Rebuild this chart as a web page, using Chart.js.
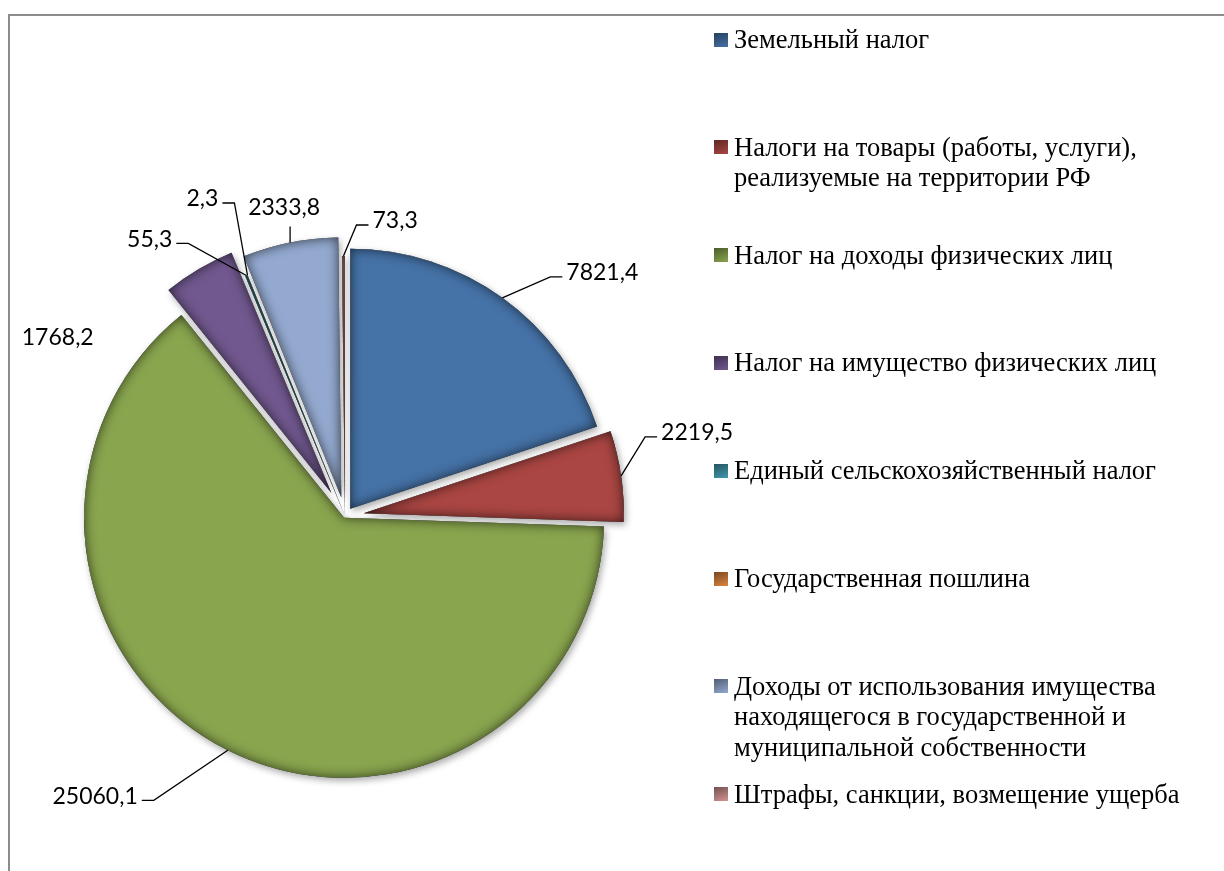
<!DOCTYPE html>
<html lang="ru">
<head>
  <meta charset="UTF-8">
  <title>Структура доходов бюджета</title>
  <script src="https://cdn.jsdelivr.net/npm/chart.js"></script>
  <style>
    body { margin: 0; background: #fff; }
    .wrap { position: relative; width: 1224px; height: 871px; overflow: hidden; }
    .frame {
      position: absolute; left: 8px; top: 14px; width: 1240px; height: 880px;
      border-left: 2px solid #8c8c8c; border-top: 2px solid #8c8c8c;
    }
    canvas { position: absolute; left: 0; top: 0; }
    #legend {
      position: absolute; left: 714px; top: 0;
      font-family: 'Liberation Serif', 'Times New Roman', serif;
      font-size: 26.5px; line-height: 30.5px; color: #000;
    }
    .item { position: absolute; left: 0; white-space: nowrap; }
    .item .box { position: absolute; left: 0; top: 8.5px; width: 14px; height: 14px; }
    .item .txt { margin-left: 20px; }
  </style>
</head>
<body>
<div class="wrap">
  <div class="frame"></div>
  <canvas id="chart" width="1224" height="871"></canvas>
  <div id="legend"></div>
</div>

<script>
  // данные диаграммы
  const categories = [
    ['Земельный налог'],
    ['Налоги на товары (работы, услуги),', 'реализуемые на территории РФ'],
    ['Налог на доходы физических лиц'],
    ['Налог на имущество физических лиц'],
    ['Единый сельскохозяйственный налог'],
    ['Государственная пошлина'],
    ['Доходы от использования имущества', 'находящегося в государственной и', 'муниципальной собственности'],
    ['Штрафы, санкции, возмещение ущерба']
  ];
  const values = [7821.4, 2219.5, 25060.1, 1768.2, 55.3, 2.3, 2333.8, 73.3];

  const colors = ['#4572A7', '#AA4643', '#89A54E', '#71588F', '#4198AF', '#DB843D', '#93A9CF', '#D19392'];

  // выдвижение секторов, px
  const explode = [9, 19, 2, 27, 0, 0, 19, 0];

  // подписи: смещение от точки на дуге, side - с какой стороны линия
  const labelPos = [
    { dx: 60, dy: -21, side: 'left' },
    { dx: 36, dy: -39, side: 'left' },
    { dx: -86, dy: 50, side: 'right' },
    { dx: -105, dy: 72, side: 'none' },
    { dx: -70, dy: -32, side: 'right' },
    { dx: -25, dy: -72, side: 'right' },
    { dx: 0, dy: -16, side: 'top' },
    { dx: 25, dy: -31, side: 'left' }
  ];

  const fmt = v => v.toFixed(1).replace('.', ',');

  const darken = (hex, k) => {
    const n = parseInt(hex.slice(1), 16);
    const r = Math.round(((n >> 16) & 255) * k);
    const g = Math.round(((n >> 8) & 255) * k);
    const b = Math.round((n & 255) * k);
    return `rgb(${r},${g},${b})`;
  };

  const arcPath = (ctx, arc) => {
    ctx.moveTo(arc.x, arc.y);
    ctx.arc(arc.x, arc.y, arc.outerRadius, arc.startAngle, arc.endAngle);
    ctx.closePath();
  };

  // рисуем секторы сами: со смещением, тенью и затемнением краёв
  const sectors = {
    id: 'sectors',
    beforeDatasetDraw(chart, args) {
      const ctx = chart.ctx;
      const arcs = args.meta.data;
      arcs.forEach((arc, i) => {
        const mid = (arc.startAngle + arc.endAngle) / 2;
        ctx.save();
        ctx.translate(Math.cos(mid) * explode[i], Math.sin(mid) * explode[i]);
        ctx.shadowColor = 'rgba(0,0,0,0.35)';
        ctx.shadowBlur = 7;
        ctx.shadowOffsetX = 2;
        ctx.shadowOffsetY = 3;
        arc.draw(ctx);
        ctx.restore();

        ctx.save();
        ctx.translate(Math.cos(mid) * explode[i], Math.sin(mid) * explode[i]);
        ctx.beginPath();
        arcPath(ctx, arc);
        ctx.clip();
        ctx.beginPath();
        ctx.rect(arc.x - 1000, arc.y - 1000, 2000, 2000);
        arcPath(ctx, arc);
        ctx.shadowColor = 'rgba(0,0,0,0.65)';
        ctx.shadowBlur = 12;
        ctx.fillStyle = '#000';
        ctx.fill('evenodd');
        ctx.restore();
      });
      return false;
    }
  };

  // подписи значений с выносками
  const valueLabels = {
    id: 'valueLabels',
    afterDatasetsDraw(chart) {
      const ctx = chart.ctx;
      const arcs = chart.getDatasetMeta(0).data;
      ctx.save();
      ctx.font = '23px Lato';
      ctx.fillStyle = '#000';
      ctx.strokeStyle = '#000';
      ctx.lineWidth = 1.3;
      ctx.textBaseline = 'middle';
      arcs.forEach((arc, i) => {
        const mid = (arc.startAngle + arc.endAngle) / 2;
        const r = arc.outerRadius + explode[i];
        const ax = arc.x + Math.cos(mid) * r;
        const ay = arc.y + Math.sin(mid) * r;
        const p = labelPos[i];
        const px = ax + p.dx, py = ay + p.dy;
        const txt = fmt(values[i]);
        if (p.side === 'left' || p.side === 'right') {
          const s = p.side === 'left' ? 1 : -1;
          ctx.beginPath();
          ctx.moveTo(ax, ay);
          ctx.lineTo(px - s * 12, py);
          ctx.lineTo(px, py);
          ctx.stroke();
          ctx.textAlign = s > 0 ? 'left' : 'right';
          ctx.fillText(txt, px + s * 4, py - 4);
        } else if (p.side === 'top') {
          ctx.beginPath();
          ctx.moveTo(ax, ay);
          ctx.lineTo(px, py);
          ctx.stroke();
          ctx.textAlign = 'center';
          ctx.fillText(txt, px - 6, py - 19);
        } else {
          ctx.textAlign = 'right';
          ctx.fillText(txt, px, py - 4);
        }
      });
      ctx.restore();
    }
  };

  new Chart(document.getElementById('chart').getContext('2d'), {
    type: 'pie',
    data: {
      labels: categories,
      datasets: [{
        data: values,
        backgroundColor: colors,
        borderWidth: 0,
        radius: 260
      }]
    },
    options: {
      responsive: false,
      animation: false,
      layout: { padding: { left: 0, right: 534, top: 161, bottom: 0 } },
      plugins: {
        legend: { display: false },
        tooltip: { enabled: false }
      }
    },
    plugins: [sectors, valueLabels]
  });

  // легенда справа
  const legend = document.getElementById('legend');
  categories.forEach((lines, i) => {
    const item = document.createElement('div');
    item.className = 'item';
    item.style.top = (24 + i * 107.8) + 'px';
    item.innerHTML = `<span class="box" style="background:linear-gradient(160deg, ${darken(colors[i], 0.55)}, ${colors[i]})"></span>` +
      `<div class="txt">${lines.join('<br>')}</div>`;
    legend.appendChild(item);
  });
</script>
</body>
</html>
